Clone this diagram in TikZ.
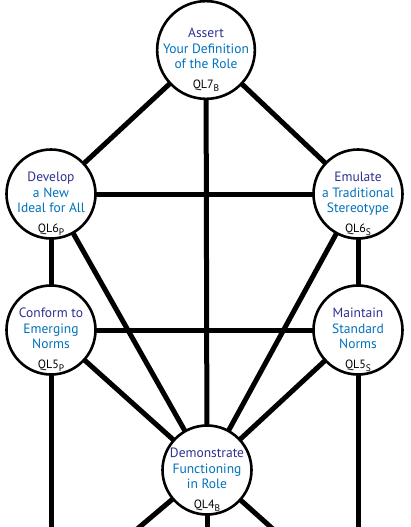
\documentclass[tikz,border=0pt]{standalone}
\usepackage{fontspec}
\setmainfont{PT Sans}
\usetikzlibrary{backgrounds}
\definecolor{titleblue}{RGB}{46,49,146}
\definecolor{textblue}{RGB}{0,114,188}
\newcommand{\stk}[3]{\raisebox{-2.5pt}{\begin{tabular}{@{}c@{}}\textcolor{titleblue}{#1}\\#2\\#3\end{tabular}}}
\newcommand{\qlab}[2]{QL#1\raisebox{-0.45ex}{\fontsize{9.5}{9.5}\selectfont #2}}
\begin{document}
\begin{tikzpicture}[x=1pt,y=-1pt,
  stage/.style={circle, draw=black, line width=2.6pt, fill=white,
    minimum size=89pt, inner sep=0pt, align=center,
    font=\fontsize{13.5}{15.5}\selectfont\def\arraystretch{1}\setlength{\tabcolsep}{0pt}, text=textblue},
  qlstyle/.style={font=\fontsize{12}{12}\selectfont, text=black, yshift=-36pt},
  conn/.style={line width=5pt, draw=black}]
\useasboundingbox (0,0) rectangle (411,527);

\node[stage, label={[qlstyle]center:\qlab{7}{B}}] (A) at (206,50)
  {\stk{Assert}{Your Definition}{of the Role}};
\node[stage, label={[qlstyle]center:\qlab{6}{P}}] (D) at (51,194)
  {\stk{Develop}{a New}{Ideal for All}};
\node[stage, label={[qlstyle]center:\qlab{6}{S}}] (E) at (358,194)
  {\stk{Emulate}{a Traditional}{Stereotype}};
\node[stage, label={[qlstyle]center:\qlab{5}{P}}] (C) at (51,330)
  {\stk{Conform to}{Emerging}{Norms}};
\node[stage, label={[qlstyle]center:\qlab{5}{S}}] (M) at (358,330)
  {\stk{Maintain}{Standard}{Norms}};
\node[stage, label={[qlstyle]center:\qlab{4}{B}}] (F) at (207,470)
  {\stk{Demonstrate}{Functioning}{in Role}};

\coordinate (bC) at (51,530);
\coordinate (bM) at (358,530);
\coordinate (bL) at (136,530);
\coordinate (bF) at (207,530);
\coordinate (bR) at (274,530);

\begin{scope}[on background layer]
\draw[conn] (A.center) -- (D.center);
\draw[conn] (A.center) -- (E.center);
\draw[conn] (A.center) -- (F.center);
\draw[conn] (D.center) -- (E.center);
\draw[conn] (D.center) -- (C.center);
\draw[conn] (E.center) -- (M.center);
\draw[conn] (D.center) -- (F.center);
\draw[conn] (E.center) -- (F.center);
\draw[conn] (C.center) -- (M.center);
\draw[conn] (C.center) -- (F.center);
\draw[conn] (M.center) -- (F.center);
\draw[conn] (C.center) -- (bC);
\draw[conn] (M.center) -- (bM);
\draw[conn] (F.center) -- (bL);
\draw[conn] (F.center) -- (bF);
\draw[conn] (F.center) -- (bR);
\end{scope}
\end{tikzpicture}
\end{document}
